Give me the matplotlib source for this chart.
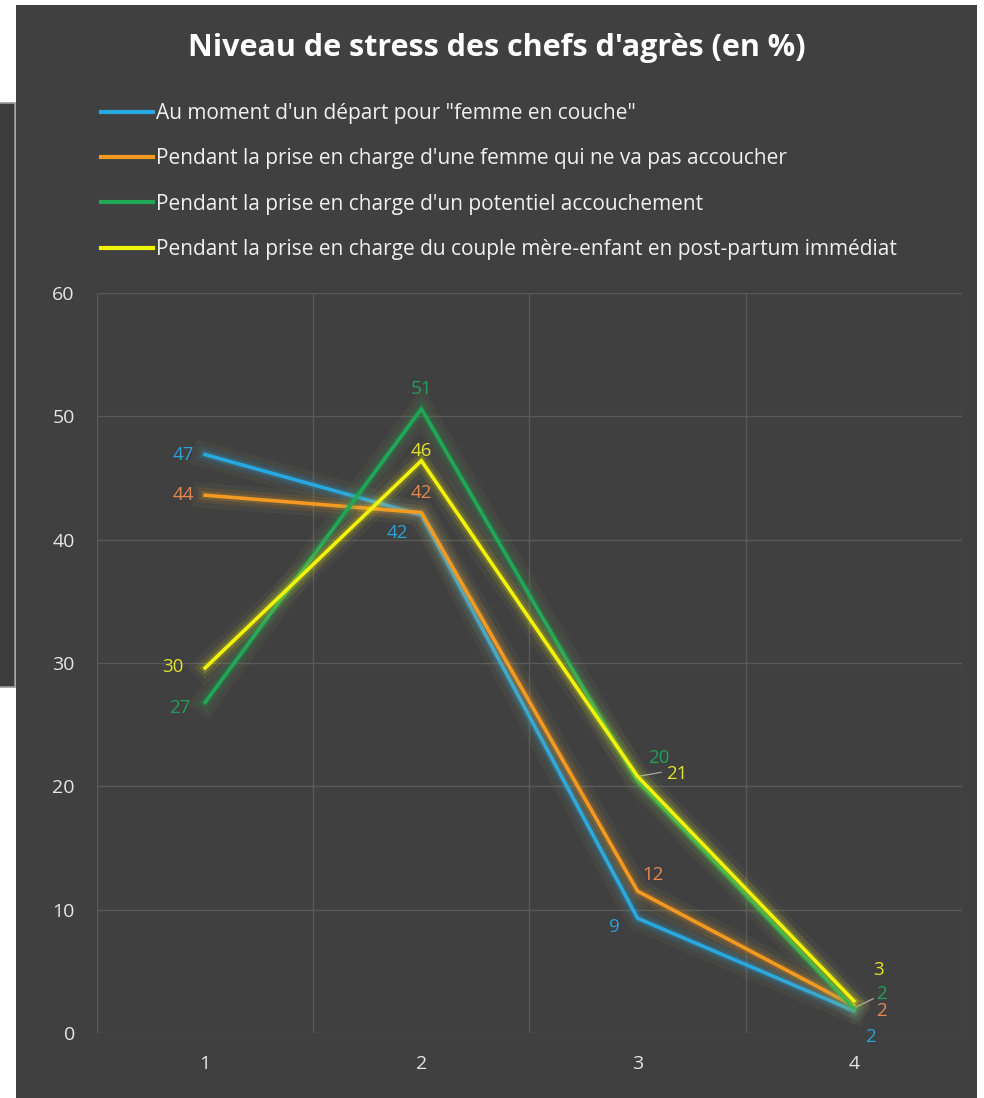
import matplotlib.pyplot as plt
import matplotlib.patheffects as pe
from matplotlib.patches import Rectangle
from matplotlib.lines import Line2D

plt.rcParams['font.family'] = ['Open Sans', 'DejaVu Sans']

# data
categories = [1, 2, 3, 4]
series_names = [
    'Au moment d\'un départ pour "femme en couche"',
    "Pendant la prise en charge d'une femme qui ne va pas accoucher",
    "Pendant la prise en charge d'un potentiel accouchement",
    "Pendant la prise en charge du couple mère-enfant en post-partum immédiat",
]
depart = [46.9, 42.0, 9.3, 1.8]
pas_accouch = [43.6, 42.2, 11.5, 2.2]
accouchement = [26.8, 50.6, 20.4, 2.0]
post_partum = [29.6, 46.4, 20.8, 2.6]
yticks = [0, 10, 20, 30, 40, 50, 60]

series = [depart, pas_accouch, accouchement, post_partum]
line_colors = ['#27a8e0', '#f59a20', '#1fa855', '#f2f20a']
label_colors = ['#2aa3d6', '#e3894f', '#22a05a', '#e2e22a']
# label offsets (points) for each series / point
offsets = [
    [(-16, 0), (-17, -13), (-17, -6), (12, -19)],
    [(-16, 0), (0, 14), (11, 12), (20, -4)],
    [(-18, -4), (0, 14), (15, 17), (20, 10)],
    [(-23, 1), (0, 7), (28, 2), (18, 22)],
]

bg = '#404040'
grid_c = '#595959'

fig = plt.figure(figsize=(9.84, 10.98), dpi=100)
fig.patch.set_facecolor('white')
fig.add_artist(Rectangle((16/984, 0), (977-16)/984, 1-5/1098, transform=fig.transFigure,
                         facecolor=bg, edgecolor='none', zorder=0))
fig.add_artist(Rectangle((-0.01, 1-687/1098), 0.01+15/984, (687-103)/1098, transform=fig.transFigure,
                         facecolor='#3c3c3c', edgecolor='#9a9a9a', linewidth=1.2, zorder=0))

ax = fig.add_axes([97/984, 1-1033/1098, (962-97)/984, (1033-293)/1098])
ax.set_facecolor(bg)

for i, vals in enumerate(series):
    c = line_colors[i]
    glow = [pe.Stroke(linewidth=18, foreground='#c8c870', alpha=0.05),
            pe.Stroke(linewidth=11, foreground=c, alpha=0.10),
            pe.Stroke(linewidth=6, foreground=c, alpha=0.18),
            pe.Normal()]
    ax.plot(categories, vals, color=c, linewidth=2.6, solid_joinstyle='miter',
            path_effects=glow, zorder=3+i, label=series_names[i])
    for j, v in enumerate(vals):
        ax.annotate(f'{v:.0f}', (categories[j], v), xytext=offsets[i][j],
                    textcoords='offset points', ha='center', va='center',
                    color=label_colors[i], fontsize=13.5, zorder=10)

# leader lines of the "21" and "2" labels
ax.annotate('', (categories[2], post_partum[2]), xytext=(17, 3), textcoords='offset points',
            arrowprops=dict(arrowstyle='-', color='#a0a0a0', linewidth=1, shrinkA=0, shrinkB=0))
ax.annotate('', (categories[3], accouchement[3]), xytext=(14, 7), textcoords='offset points',
            arrowprops=dict(arrowstyle='-', color='#a0a0a0', linewidth=1, shrinkA=0, shrinkB=0))

ax.set_xlim(0.5, 4.5)
ax.set_ylim(0, 60)
ax.set_yticks(yticks)
ax.set_xticks(categories)
ax.set_xticks([0.5, 1.5, 2.5, 3.5, 4.5], minor=True)
ax.grid(True, which='major', axis='y', color=grid_c, linewidth=1)
ax.grid(True, which='minor', axis='x', color=grid_c, linewidth=1)
ax.tick_params(axis='both', which='both', length=0, colors='#e6e6e6', labelsize=14)
ax.tick_params(axis='y', pad=16)
ax.tick_params(axis='x', pad=16)
for s in ax.spines.values():
    s.set_visible(False)
ax.set_axisbelow(True)

fig.text(497/984, 1-48/1098, "Niveau de stress des chefs d'agrès (en %)", ha='center', va='center',
         color='white', fontsize=22, fontweight='bold')

handles = [Line2D([], [], color=c, linewidth=3) for c in line_colors]
fig.legend(handles, series_names, loc='upper left', bbox_to_anchor=(101/984, 1-103/1098),
           frameon=False, handlelength=2.5, handletextpad=0.15, labelspacing=1.17,
           fontsize=15, labelcolor='#f0f0f0', borderaxespad=0, borderpad=0)

fig.savefig('out.png', dpi=100, facecolor=fig.get_facecolor())
